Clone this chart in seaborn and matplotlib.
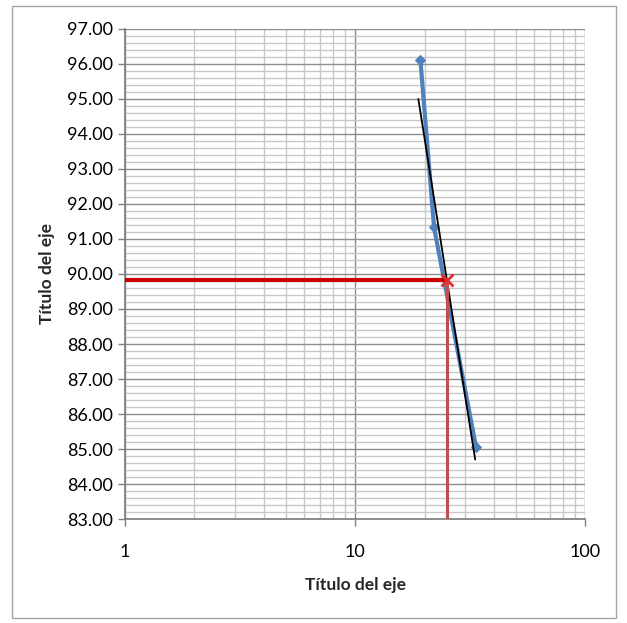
import numpy as np
import pandas as pd
import seaborn as sns
from matplotlib import pyplot as plt
from matplotlib.patches import Rectangle
from matplotlib.ticker import FixedLocator, MultipleLocator, LogLocator, NullFormatter

# measured series
x_data = [19.2, 22.0, 33.5]
y_data = [96.10, 91.33, 85.05]
# trend line ends
x_trend = [18.8, 33.2]
y_trend = [95.0, 84.7]
# read-off point
x_read = 25.1
y_read = 89.83

sns.set_theme(style="white")
plt.rcParams['font.family'] = ['Lato', 'DejaVu Sans']

fig = plt.figure(figsize=(6.27, 6.23), dpi=100)
ax = fig.add_axes([0.1994, 0.1669, 0.7343, 0.7866])

# grid
ax.set_xscale('log')
ax.set_xlim(1, 100)
ax.set_ylim(83, 97)
ax.yaxis.set_major_locator(MultipleLocator(1))
ax.yaxis.set_minor_locator(MultipleLocator(0.2))
ax.xaxis.set_major_locator(FixedLocator([1, 10, 100]))
ax.xaxis.set_minor_locator(LogLocator(base=10, subs=np.arange(2, 10)))
ax.xaxis.set_minor_formatter(NullFormatter())
ax.grid(which='major', color='#8c8c8c', lw=1.0)
ax.grid(which='minor', color='#c8c8c8', lw=1.0)
ax.set_axisbelow(True)

df = pd.DataFrame({'x': x_data, 'y': y_data})
sns.lineplot(data=df, x='x', y='y', ax=ax, color='#4f81bd', lw=3,
             marker='D', markersize=5, markeredgecolor='#4f81bd', zorder=3)
tr = pd.DataFrame({'x': x_trend, 'y': y_trend})
sns.lineplot(data=tr, x='x', y='y', ax=ax, color='black', lw=1.3, zorder=4)

ax.plot([1, x_read], [y_read, y_read], color='#cc0000', lw=3, zorder=5, solid_capstyle='butt')
ax.plot([x_read, x_read], [83, y_read], color='#c0504d', lw=2.2, zorder=5, solid_capstyle='butt')
ax.plot([x_read], [y_read], marker='x', color='#e03030', markersize=9, mew=2, zorder=6)

ax.set_yticks(np.arange(83, 98, 1))
ax.set_yticklabels([f"{v:.2f}" for v in np.arange(83, 98, 1)])
ax.set_xticklabels(['1', '10', '100'])
ax.tick_params(axis='both', which='major', labelsize=13, colors='#000000',
               length=5, width=1, direction='out', bottom=True, left=True)
ax.tick_params(axis='x', which='major', pad=13, color='#808080')
ax.tick_params(axis='y', which='major', pad=4, color='#808080')
ax.tick_params(which='minor', length=0)

for s in ['left', 'bottom']:
    ax.spines[s].set_color('#808080')
for s in ['top', 'right']:
    ax.spines[s].set_visible(False)

ax.set_xlabel('Título del eje', fontsize=12.5, fontweight='bold', labelpad=12)
ax.set_ylabel('Título del eje', fontsize=12.5, fontweight='bold', labelpad=8)

fig.patches.append(Rectangle((12 / 627, 5 / 623), 604 / 627, 612 / 623, transform=fig.transFigure,
                             fill=False, edgecolor='#a6a6a6', lw=1))

plt.savefig('out.png', dpi=100)
